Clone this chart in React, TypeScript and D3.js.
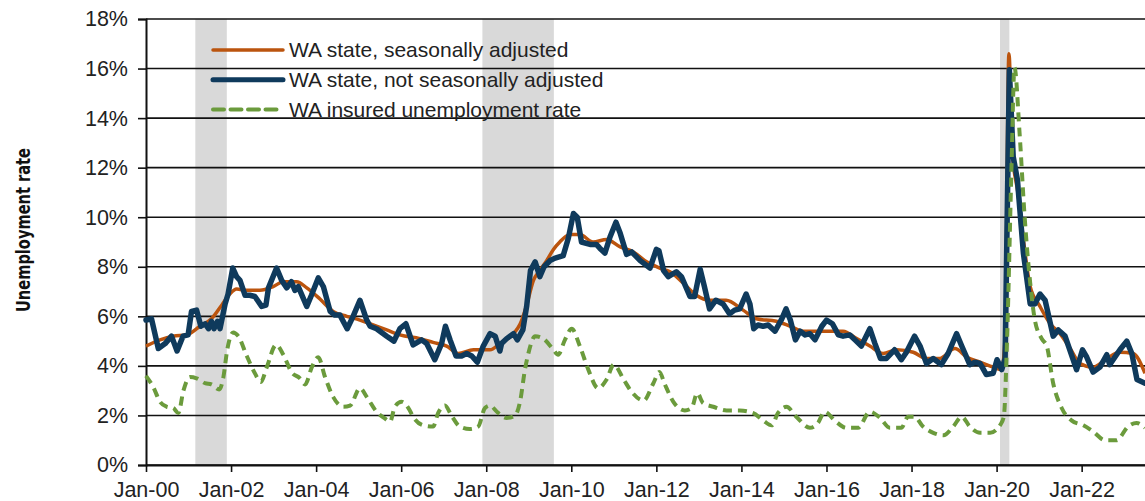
import React, { useEffect, useRef } from "react";
import * as d3 from "d3";

// [decimal year, %]
const seasonallyAdjusted: [number, number][] = [
  [2000.0, 4.8], [2000.33, 5.05], [2000.64, 5.2], [2000.95, 5.25], [2001.27, 5.6], [2001.54, 5.9],
  [2001.78, 6.45], [2001.97, 6.9], [2002.13, 7.1], [2002.37, 7.05], [2002.68, 7.05], [2002.99, 7.2],
  [2003.23, 7.4], [2003.54, 7.4], [2003.78, 7.15], [2004.09, 6.7], [2004.4, 6.2], [2004.72, 6.0],
  [2005.03, 5.85], [2005.34, 5.65], [2005.66, 5.45], [2005.97, 5.25], [2006.44, 5.1], [2006.75, 4.95],
  [2007.07, 4.8], [2007.34, 4.5], [2007.7, 4.65], [2008.09, 4.65], [2008.32, 4.9], [2008.64, 5.3],
  [2008.8, 5.7], [2008.95, 6.45], [2009.11, 7.45], [2009.26, 7.85], [2009.42, 8.25], [2009.58, 8.7],
  [2009.73, 9.0], [2009.97, 9.3], [2010.2, 9.3], [2010.51, 9.0], [2010.83, 9.1], [2011.15, 8.8],
  [2011.46, 8.6], [2011.77, 8.2], [2012.08, 7.95], [2012.32, 7.8], [2012.63, 7.35], [2012.94, 6.85],
  [2013.25, 6.65], [2013.64, 6.65], [2014.04, 6.25], [2014.35, 5.9], [2014.82, 5.8], [2015.15, 5.6],
  [2015.46, 5.4], [2015.92, 5.4], [2016.39, 5.4], [2016.71, 5.1], [2017.02, 4.8], [2017.33, 4.5],
  [2017.65, 4.65], [2018.04, 4.55], [2018.35, 4.3], [2018.66, 4.3], [2019.02, 4.7], [2019.3, 4.35],
  [2019.61, 4.15], [2019.92, 3.95], [2020.12, 3.85], [2020.2, 5.2], [2020.29, 16.6], [2020.37, 12.6],
  [2020.5, 11.0], [2020.63, 9.1], [2020.79, 7.2], [2021.02, 6.4], [2021.26, 5.7], [2021.49, 5.3],
  [2021.73, 4.7], [2021.96, 4.1], [2022.27, 3.95], [2022.59, 4.3], [2022.9, 4.55], [2023.21, 4.5],
  [2023.49, 3.7],
];

const notSeasonallyAdjusted: [number, number][] = [
  [2000.0, 5.85], [2000.13, 5.9], [2000.29, 4.7], [2000.45, 4.9], [2000.6, 5.2], [2000.73, 4.6],
  [2000.87, 5.2], [2000.99, 5.25], [2001.07, 6.2], [2001.19, 6.25], [2001.29, 5.6], [2001.39, 5.7],
  [2001.47, 5.5], [2001.54, 5.8], [2001.6, 5.5], [2001.68, 5.8], [2001.74, 5.5], [2001.86, 6.5],
  [2001.93, 6.9], [2002.04, 7.95], [2002.13, 7.6], [2002.21, 7.45], [2002.33, 6.85], [2002.44, 6.85],
  [2002.56, 6.8], [2002.72, 6.4], [2002.82, 6.45], [2002.88, 7.15], [2003.07, 7.95], [2003.19, 7.45],
  [2003.31, 7.15], [2003.42, 7.4], [2003.5, 7.05], [2003.58, 7.2], [2003.78, 6.4], [2003.89, 6.85],
  [2004.05, 7.55], [2004.17, 7.2], [2004.33, 6.2], [2004.44, 6.05], [2004.56, 6.05], [2004.73, 5.5],
  [2004.87, 6.0], [2005.03, 6.65], [2005.19, 5.85], [2005.27, 5.6], [2005.42, 5.5], [2005.66, 5.2],
  [2005.83, 5.0], [2005.97, 5.5], [2006.11, 5.7], [2006.28, 4.85], [2006.48, 5.05], [2006.6, 4.9],
  [2006.79, 4.25], [2006.95, 4.9], [2007.04, 5.6], [2007.15, 5.05], [2007.29, 4.4], [2007.42, 4.4],
  [2007.54, 4.5], [2007.66, 4.4], [2007.79, 4.15], [2007.93, 4.8], [2008.09, 5.3], [2008.21, 5.2],
  [2008.32, 4.6], [2008.36, 4.9], [2008.48, 5.1], [2008.64, 5.3], [2008.73, 5.05], [2008.86, 5.45],
  [2008.95, 6.4], [2009.04, 7.85], [2009.15, 8.2], [2009.26, 7.6], [2009.36, 8.0], [2009.5, 8.25],
  [2009.62, 8.35], [2009.81, 8.45], [2009.93, 9.15], [2010.05, 10.15], [2010.14, 10.0], [2010.24, 9.0],
  [2010.44, 8.9], [2010.59, 8.9], [2010.67, 8.75], [2010.79, 8.55], [2010.91, 9.2], [2011.05, 9.8],
  [2011.15, 9.35], [2011.3, 8.5], [2011.42, 8.6], [2011.62, 8.25], [2011.85, 7.95], [2012.0, 8.7],
  [2012.06, 8.65], [2012.17, 7.85], [2012.28, 7.6], [2012.47, 7.8], [2012.59, 7.6], [2012.79, 6.8],
  [2012.9, 6.8], [2013.03, 7.9], [2013.13, 7.2], [2013.25, 6.3], [2013.4, 6.65], [2013.57, 6.5],
  [2013.72, 6.1], [2013.84, 6.25], [2013.96, 6.3], [2014.11, 6.9], [2014.2, 6.5], [2014.29, 5.5],
  [2014.39, 5.65], [2014.51, 5.6], [2014.63, 5.65], [2014.79, 5.4], [2014.95, 5.9], [2015.05, 6.3],
  [2015.15, 5.85], [2015.27, 5.05], [2015.38, 5.4], [2015.5, 5.25], [2015.61, 5.3], [2015.73, 5.05],
  [2015.89, 5.6], [2016.0, 5.85], [2016.14, 5.7], [2016.28, 5.25], [2016.39, 5.2], [2016.55, 5.25],
  [2016.67, 5.05], [2016.82, 4.8], [2017.02, 5.5], [2017.14, 4.9], [2017.27, 4.3], [2017.41, 4.3],
  [2017.6, 4.65], [2017.76, 4.25], [2017.88, 4.55], [2018.07, 5.2], [2018.2, 4.8], [2018.35, 4.1],
  [2018.51, 4.3], [2018.7, 4.05], [2018.86, 4.5], [2019.06, 5.3], [2019.18, 4.8], [2019.37, 4.05],
  [2019.49, 4.15], [2019.61, 4.1], [2019.76, 3.65], [2019.92, 3.7], [2020.01, 4.25], [2020.12, 3.85],
  [2020.2, 4.3], [2020.3, 15.95], [2020.39, 12.45], [2020.49, 11.5], [2020.63, 8.55], [2020.79, 6.5],
  [2020.9, 6.5], [2021.02, 6.9], [2021.14, 6.65], [2021.33, 5.2], [2021.45, 5.45], [2021.61, 5.2],
  [2021.88, 3.85], [2022.02, 4.65], [2022.12, 4.35], [2022.27, 3.75], [2022.43, 3.95], [2022.59, 4.45],
  [2022.66, 4.05], [2022.9, 4.65], [2023.06, 5.0], [2023.18, 4.5], [2023.3, 3.45], [2023.49, 3.3],
];

const insuredRate: [number, number][] = [
  [2000.0, 3.6], [2000.17, 3.15], [2000.33, 2.55], [2000.49, 2.35], [2000.64, 2.3], [2000.76, 2.1],
  [2000.88, 3.0], [2001.03, 3.55], [2001.19, 3.5], [2001.39, 3.3], [2001.54, 3.25], [2001.72, 3.05],
  [2001.82, 3.55], [2001.91, 4.65], [2002.05, 5.35], [2002.17, 5.2], [2002.37, 4.4], [2002.56, 3.7],
  [2002.7, 3.35], [2002.84, 3.95], [2003.06, 4.85], [2003.23, 4.45], [2003.42, 3.75], [2003.62, 3.5],
  [2003.74, 3.25], [2003.9, 3.95], [2004.05, 4.35], [2004.21, 3.55], [2004.4, 2.75], [2004.64, 2.35],
  [2004.8, 2.4], [2005.03, 3.1], [2005.19, 2.75], [2005.42, 2.15], [2005.6, 1.9], [2005.74, 1.75],
  [2005.85, 2.35], [2006.01, 2.55], [2006.17, 2.3], [2006.28, 1.95], [2006.52, 1.6], [2006.75, 1.55],
  [2006.87, 2.1], [2007.03, 2.4], [2007.18, 2.0], [2007.38, 1.55], [2007.61, 1.45], [2007.81, 1.55],
  [2007.97, 2.3], [2008.09, 2.4], [2008.25, 2.15], [2008.48, 1.9], [2008.68, 2.0], [2008.8, 2.6],
  [2008.91, 3.85], [2008.99, 4.5], [2009.15, 5.2], [2009.34, 5.1], [2009.58, 4.65], [2009.69, 4.45],
  [2009.85, 5.05], [2010.01, 5.5], [2010.2, 4.8], [2010.4, 3.85], [2010.63, 3.1], [2010.83, 3.45],
  [2011.0, 4.05], [2011.23, 3.45], [2011.42, 2.95], [2011.7, 2.6], [2011.93, 3.3], [2012.07, 3.75],
  [2012.2, 3.25], [2012.4, 2.55], [2012.67, 2.2], [2012.83, 2.3], [2012.96, 2.9], [2013.1, 2.5],
  [2013.34, 2.35], [2013.65, 2.2], [2013.96, 2.2], [2014.27, 2.1], [2014.51, 1.8], [2014.71, 1.6],
  [2014.86, 2.1], [2015.06, 2.35], [2015.29, 1.95], [2015.61, 1.5], [2015.8, 1.7], [2015.96, 2.15],
  [2016.19, 1.8], [2016.47, 1.5], [2016.74, 1.5], [2017.02, 2.15], [2017.26, 1.9], [2017.49, 1.5],
  [2017.76, 1.5], [2017.92, 1.95], [2018.07, 1.95], [2018.27, 1.55], [2018.51, 1.3], [2018.75, 1.2],
  [2018.98, 1.55], [2019.18, 1.95], [2019.37, 1.55], [2019.61, 1.3], [2019.85, 1.3], [2020.08, 1.6],
  [2020.17, 1.95], [2020.25, 5.3], [2020.35, 12.0], [2020.42, 16.05], [2020.54, 13.4], [2020.66, 10.0],
  [2020.79, 7.35], [2020.9, 5.85], [2021.06, 5.1], [2021.18, 4.8], [2021.33, 3.3], [2021.53, 2.3],
  [2021.76, 1.8], [2022.04, 1.6], [2022.27, 1.35], [2022.55, 1.0], [2022.82, 1.0], [2023.09, 1.55],
  [2023.29, 1.7], [2023.49, 1.5],
];

const recessions: [number, number][] = [
  [2001.16, 2001.9],
  [2007.91, 2009.59],
  [2020.08, 2020.3],
];

const yTicks = [0, 2, 4, 6, 8, 10, 12, 14, 16, 18];
const xTicks = [2000, 2002, 2004, 2006, 2008, 2010, 2012, 2014, 2016, 2018, 2020, 2022];
const xTickLabels = ["Jan-00", "Jan-02", "Jan-04", "Jan-06", "Jan-08", "Jan-10", "Jan-12", "Jan-14", "Jan-16", "Jan-18", "Jan-20", "Jan-22"];

const legendLabels = [
  "WA state, seasonally adjusted",
  "WA state, not seasonally adjusted",
  "WA insured unemployment rate",
];

const ORANGE = "#bb540e";
const NAVY = "#0f3a5c";
const GREEN = "#6b9b3c";
const FONT = "'Liberation Sans', Arial, sans-serif";

export default function App() {
  const ref = useRef<SVGSVGElement | null>(null);

  useEffect(() => {
    const width = 1145;
    const height = 501;
    const left = 146;
    const top = 19;
    const bottom = 465;

    const svg = d3.select(ref.current);
    svg.selectAll("*").remove();
    svg.attr("width", width).attr("height", height);

    const x = d3.scaleLinear().domain([2000, 2024]).range([left, left + 24 * 42.53]);
    const y = d3.scaleLinear().domain([0, 18]).range([bottom, top]);

    // recession bands
    svg.append("g")
      .selectAll("rect")
      .data(recessions)
      .enter().append("rect")
      .attr("x", d => x(d[0]))
      .attr("width", d => x(d[1]) - x(d[0]))
      .attr("y", y(18))
      .attr("height", y(0) - y(18))
      .attr("fill", "#d9d9d9");

    // gridlines
    svg.append("g")
      .selectAll("line")
      .data(yTicks)
      .enter().append("line")
      .attr("x1", left)
      .attr("x2", width)
      .attr("y1", d => y(d))
      .attr("y2", d => y(d))
      .attr("stroke", "#111")
      .attr("stroke-width", 1.6);

    // y axis
    const yAxis = svg.append("g")
      .attr("transform", `translate(${left},0)`)
      .call(d3.axisLeft(y).tickValues(yTicks).tickSize(8).tickPadding(10).tickFormat(d => `${d}%`));
    yAxis.select(".domain").attr("stroke", "#111").attr("stroke-width", 2);
    yAxis.selectAll(".tick line").attr("stroke", "#111").attr("stroke-width", 1.6);
    yAxis.selectAll(".tick text")
      .attr("fill", "#222")
      .style("font-family", FONT)
      .style("font-size", "21.5px");

    // x axis
    const xAxis = svg.append("g")
      .attr("transform", `translate(0,${bottom})`)
      .call(d3.axisBottom(x).tickValues(xTicks).tickSize(7).tickSizeOuter(0).tickPadding(10)
        .tickFormat((d, i) => xTickLabels[i]));
    xAxis.select(".domain").attr("stroke", "#111").attr("stroke-width", 2);
    xAxis.selectAll(".tick line").attr("stroke", "#111").attr("stroke-width", 1.6);
    xAxis.selectAll(".tick text")
      .attr("fill", "#222")
      .attr("dy", "0.71em")
      .style("font-family", FONT)
      .style("font-size", "21.5px");

    const lineLinear = d3.line<[number, number]>()
      .x(d => x(d[0]))
      .y(d => y(d[1]));
    const lineSmooth = d3.line<[number, number]>()
      .x(d => x(d[0]))
      .y(d => y(d[1]))
      .curve(d3.curveMonotoneX);

    svg.append("path")
      .datum(seasonallyAdjusted)
      .attr("d", lineSmooth)
      .attr("fill", "none")
      .attr("stroke", ORANGE)
      .attr("stroke-width", 3.5)
      .attr("stroke-linejoin", "round");

    svg.append("path")
      .datum(notSeasonallyAdjusted)
      .attr("d", lineLinear)
      .attr("fill", "none")
      .attr("stroke", NAVY)
      .attr("stroke-width", 5.5)
      .attr("stroke-linejoin", "round")
      .attr("stroke-linecap", "round");

    svg.append("path")
      .datum(insuredRate)
      .attr("d", lineSmooth)
      .attr("fill", "none")
      .attr("stroke", GREEN)
      .attr("stroke-width", 4)
      .attr("stroke-dasharray", "9,6")
      .attr("stroke-linejoin", "round");

    // legend
    const legendStyles = [
      { color: ORANGE, w: 3.5, dash: null },
      { color: NAVY, w: 5, dash: null },
      { color: GREEN, w: 4, dash: "11,6.5" },
    ];
    const legend = svg.append("g");
    const items = legend.selectAll("g")
      .data(legendLabels)
      .enter().append("g")
      .attr("transform", (d, i) => `translate(213, ${50 + i * 29.8})`);
    items.append("line")
      .attr("x1", 0)
      .attr("x2", 70)
      .attr("stroke", (d, i) => legendStyles[i].color)
      .attr("stroke-width", (d, i) => legendStyles[i].w)
      .attr("stroke-linecap", "round")
      .attr("stroke-dasharray", (d, i) => legendStyles[i].dash);
    items.append("text")
      .attr("x", 76)
      .attr("y", 7)
      .attr("fill", "#222")
      .style("font-family", FONT)
      .style("font-size", "21px")
      .text(d => d);

    // y title
    svg.append("text")
      .attr("transform", `translate(30, 230) rotate(-90)`)
      .attr("text-anchor", "middle")
      .attr("fill", "#111")
      .attr("textLength", 164)
      .attr("lengthAdjust", "spacingAndGlyphs")
      .style("font-family", "'Liberation Sans Narrow', 'Arial Narrow', 'DejaVu Sans Condensed', sans-serif")
      .style("font-weight", "bold")
      .style("font-size", "20px")
      .text("Unemployment rate");
  }, []);

  return <svg ref={ref} style={{ position: "absolute", left: 0, top: 0 }} />;
}
